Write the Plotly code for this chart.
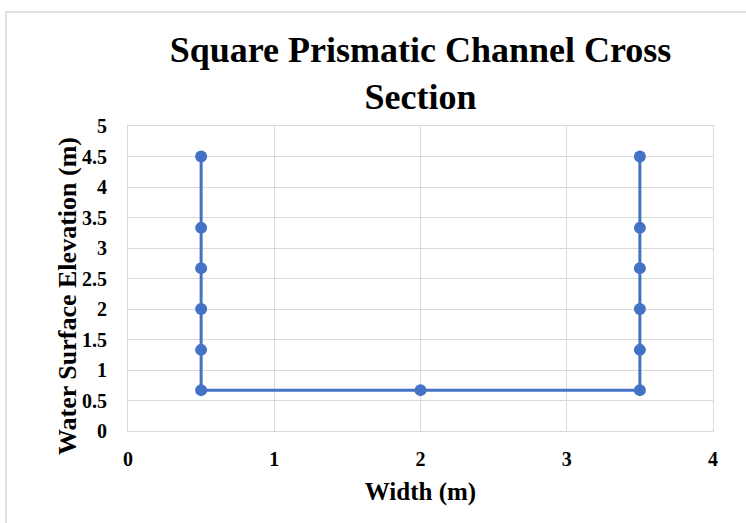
import plotly.graph_objects as go

# Channel cross-section outline: left wall, bed, right wall
width_m = [0.5, 0.5, 0.5, 0.5, 0.5, 0.5, 2.0, 3.5, 3.5, 3.5, 3.5, 3.5, 3.5]
elevation_m = [4.5, 3.33, 2.67, 2.0, 1.33, 0.67, 0.67, 0.67, 1.33, 2.0, 2.67, 3.33, 4.5]

x_ticks = [0, 1, 2, 3, 4]
y_ticks = [0, 0.5, 1, 1.5, 2, 2.5, 3, 3.5, 4, 4.5, 5]

serif = "Liberation Serif, Times New Roman, serif"
blue = "#4472C4"
grid = "#D9D9D9"

# plot area in pixels: x 128..713, y 126..431
PL, PR, PT, PB = 128, 713, 126, 431
PW, PH = PR - PL, PB - PT

fig = go.Figure()
fig.add_trace(go.Scatter(
    x=width_m, y=elevation_m,
    mode="lines+markers",
    line=dict(color=blue, width=3),
    marker=dict(color=blue, size=12),
    showlegend=False,
))

fig.update_layout(
    width=746, height=523,
    margin=dict(l=PL, r=746 - PR, t=PT, b=523 - PB),
    paper_bgcolor="white", plot_bgcolor="white",
    title=dict(
        text="<b>Square Prismatic Channel Cross<br>Section</b>",
        x=(PL + PR) / 2 / 746, xanchor="center",
        y=1 - 62 / 523, yanchor="middle",
        font=dict(family=serif, size=36, color="black"),
    ),
    xaxis=dict(
        range=[0, 4], tickvals=x_ticks,
        showgrid=True, gridcolor=grid, gridwidth=1,
        zeroline=False, showline=True, linecolor=grid, mirror=True,
        ticks="", ticklabelstandoff=10,
        tickfont=dict(family=serif, size=20, color="black", weight="bold"),
        title=dict(text="<b>Width (m)</b>", standoff=13,
                   font=dict(family=serif, size=25, color="black")),
    ),
    yaxis=dict(
        range=[0, 5], tickvals=y_ticks, ticktext=[f"{v:g}" for v in y_ticks],
        showgrid=True, gridcolor=grid, gridwidth=1,
        zeroline=False, showline=True, linecolor=grid, mirror=True,
        ticks="", ticklabelstandoff=16,
        tickfont=dict(family=serif, size=20, color="black", weight="bold"),
    ),
    annotations=[dict(
        text="<b>Water Surface Elevation (m)</b>",
        xref="paper", yref="paper",
        x=(67 - PL) / PW, y=(PB - 296) / PH,
        xanchor="center", yanchor="middle", textangle=-90,
        showarrow=False,
        font=dict(family=serif, size=26, color="black"),
    )],
    shapes=[dict(
        type="rect", xref="paper", yref="paper",
        x0=(6 - PL) / PW, x1=1.2, y0=-0.5, y1=(PB - 12) / PH,
        line=dict(color="#D9D9D9", width=1.5), fillcolor="rgba(0,0,0,0)",
        layer="below",
    )],
)

fig.write_html("out.html")
